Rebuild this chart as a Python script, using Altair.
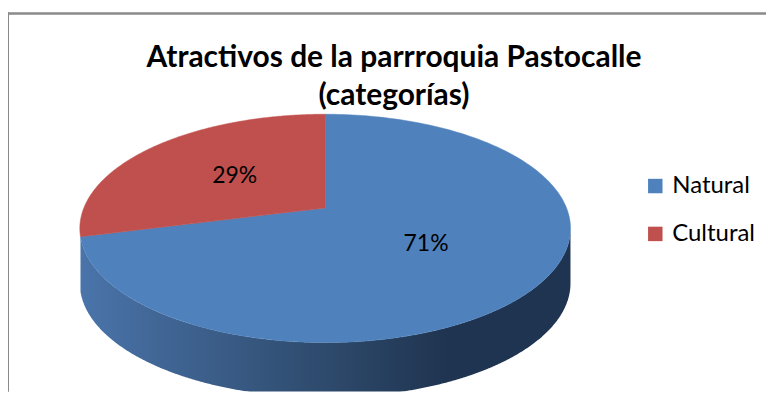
import numpy as np
import pandas as pd
import altair as alt

# ---- data ----
categories = ["Natural", "Cultural"]
shares = [71, 29]
colors = ["#4f81bd", "#c0504d"]
title_lines = ["Atractivos de la parrroquia Pastocalle", "(categorías)"]

# ---- layout (view pixel units) ----
W, H = 760, 384
CX, K = 318.0, 242.0          # pie centre x, horizontal radius
PA, PB, PC = 75.0, 200.0, -0.179   # perspective for y
DEPTH = 55.0
FONT = "Lato"


def proj(theta_deg, r=1.0):
    t = np.radians(theta_deg)
    u = r * np.sin(t)
    v = -r * np.cos(t)
    den = 1 + PC * v
    return CX + K * u / den, (PA * v + PB) / den


total = sum(shares)
starts = np.cumsum([0] + shares[:-1]) / total * 360
ends = np.cumsum(shares) / total * 360

# top-face slices as polygons
rows = []
for cat, s, e in zip(categories, starts, ends):
    angs = np.linspace(s, e, 200)
    xs, ys = proj(angs)
    x0, y0 = proj(0.0, 0.0)
    pts = [(x0, y0)] + list(zip(xs, ys)) + [(x0, y0)]
    for i, (x, y) in enumerate(pts):
        rows.append({"cat": cat, "x": float(x), "y": float(y), "o": i})
slices = pd.DataFrame(rows)

# front side (visible part of the rim) for the Natural slice
a = np.linspace(0, 360, 3601)
xa, ya = proj(a)
i_right = int(np.argmax(xa))
right_ang = a[i_right]
side_ang = np.linspace(right_ang, ends[0], 600)
sx, sy = proj(side_ang)
side = pd.DataFrame({"x": sx, "y": sy, "y2": sy + DEPTH})

# labels
lab_rows = []
for cat, s, e, v in zip(categories, starts, ends, shares):
    lx, ly = proj((s + e) / 2, 0.5)
    lab_rows.append({"cat": cat, "x": float(lx), "y": float(ly), "t": f"{v}%"})
labels = pd.DataFrame(lab_rows)

xs_ = alt.Scale(domain=[0, W], nice=False, zero=False)
ys_ = alt.Scale(domain=[H, 0], nice=False, zero=False)

side_grad = alt.Gradient(
    gradient="linear",
    stops=[
        alt.GradientStop(color="#4a74aa", offset=0),
        alt.GradientStop(color="#2e4a6c", offset=0.5),
        alt.GradientStop(color="#1f3450", offset=0.75),
        alt.GradientStop(color="#1f3450", offset=1),
    ],
    x1=0, x2=1, y1=0, y2=0,
)

side_layer = alt.Chart(side).mark_area(color=side_grad, clip=True).encode(
    x=alt.X("x:Q", scale=xs_, axis=None),
    y=alt.Y("y:Q", scale=ys_, axis=None),
    y2="y2:Q",
)

slice_layer = alt.Chart(slices).mark_line(strokeWidth=0.5).encode(
    x=alt.X("x:Q", scale=xs_, axis=None),
    y=alt.Y("y:Q", scale=ys_, axis=None),
    detail="cat:N",
    order="o:Q",
    fill=alt.Fill(
        "cat:N",
        scale=alt.Scale(domain=categories, range=colors),
        legend=alt.Legend(
            title=None,
            orient="none",
            legendX=637,
            legendY=166,
            symbolType="square",
            symbolSize=210,
            symbolStrokeWidth=0,
            labelFont=FONT,
            labelFontSize=24,
            labelColor="#000000",
            rowPadding=24,
            labelOffset=5,
        ),
    ),
    stroke=alt.Stroke("cat:N", scale=alt.Scale(domain=categories, range=colors), legend=None),
)

label_layer = alt.Chart(labels).mark_text(font=FONT, fontSize=23, color="#000000").encode(
    x=alt.X("x:Q", scale=xs_, axis=None),
    y=alt.Y("y:Q", scale=ys_, axis=None),
    text="t:N",
)

border_top = alt.Chart(labels).mark_rule(color="#8a8a8a", strokeWidth=2).encode(
    x=alt.value(0), x2=alt.value(W), y=alt.value(5)
)
border_left = alt.Chart(labels).mark_rule(color="#8a8a8a", strokeWidth=2).encode(
    x=alt.value(0), y=alt.value(4), y2=alt.value(H)
)

chart = alt.layer(border_top, border_left, side_layer, slice_layer, label_layer).properties(
    width=W,
    height=H,
    autosize=alt.AutoSizeParams(type="none"),
    padding=0,
    title=alt.TitleParams(
        text=title_lines,
        font=FONT,
        fontSize=30,
        fontWeight="bold",
        color="#000000",
        anchor="middle",
        orient="top",
        offset=-103,
        lineHeight=38,
        dx=7,
    ),
).configure_view(stroke=None)

chart.save("out.html", embed_options={"renderer": "svg", "actions": False})
